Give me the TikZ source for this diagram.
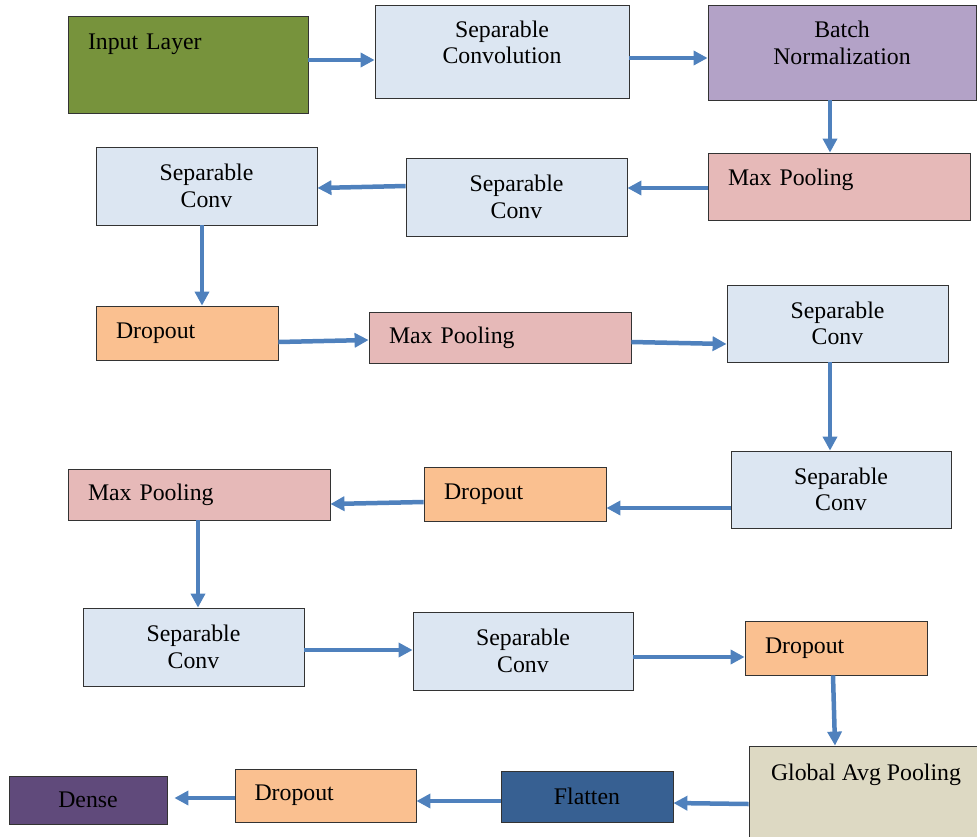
\documentclass[tikz,border=0pt]{standalone}
\usepackage{fontspec}
\setmainfont{Liberation Serif}
\usepackage{xcolor}
\usetikzlibrary{arrows.meta}

\definecolor{inputgreen}{HTML}{77933C}
\definecolor{convblue}{HTML}{DCE6F2}
\definecolor{normpurple}{HTML}{B3A2C7}
\definecolor{poolpink}{HTML}{E6B9B8}
\definecolor{droporange}{HTML}{FAC090}
\definecolor{avgbeige}{HTML}{DDD9C3}
\definecolor{flatblue}{HTML}{376092}
\definecolor{densepurple}{HTML}{604A7B}
\definecolor{arrowblue}{HTML}{4F81BD}

\begin{document}
\begin{tikzpicture}[x=1pt, y=-1pt,
  layer/.style={draw=black!80, line width=0.8pt, inner sep=0pt, align=center,
    font=\fontsize{23.8}{26.5}\selectfont},
  sepconv/.style={layer, fill=convblue, minimum width=221pt, minimum height=78pt},
  maxpool/.style={layer, fill=poolpink, minimum width=262pt, minimum height=51pt,
    text width=222pt, align=left},
  dropout/.style={layer, fill=droporange, minimum width=182pt, minimum height=54pt,
    text width=142pt, align=left},
  flow/.style={draw=arrowblue, line width=4.5pt, -{Triangle[width=14pt, length=14pt]}}]

  \useasboundingbox (0,0) rectangle (977,836);

  % Row 1
  \node[layer, fill=inputgreen, minimum width=240pt, minimum height=97pt,
        text width=200pt, align=left, text depth=45.6pt] (in) at (188,64.5) {Input Layer};
  \node[layer, fill=convblue, minimum width=254pt, minimum height=93pt, text depth=19pt] (sc1) at (502,51.5) {Separable\\Convolution};
  \node[layer, fill=normpurple, minimum width=268pt, minimum height=95pt, text depth=20pt] (bn) at (842,52.5) {Batch\\Normalization};

  % Row 2
  \node[maxpool, minimum height=67pt, text depth=19pt] (mp1) at (839,186.5) {Max Pooling};
  \node[sepconv] (c2) at (516.5,197) {Separable\\Conv};
  \node[sepconv] (c3) at (206.5,186) {Separable\\Conv};

  % Row 3
  \node[dropout] (d1) at (187,333) {Dropout};
  \node[maxpool] (mp2) at (500,337.5) {Max Pooling};
  \node[sepconv, minimum height=77pt] (c4) at (837.5,323.5) {Separable\\Conv};

  % Row 4
  \node[sepconv, minimum width=220pt, minimum height=77pt] (c5) at (841,489.5) {Separable\\Conv};
  \node[dropout] (d2) at (515,494) {Dropout};
  \node[maxpool] (mp3) at (199,494.5) {Max Pooling};

  % Row 5
  \node[sepconv] (c6) at (193.5,647) {Separable\\Conv};
  \node[sepconv, minimum width=220pt] (c7) at (523,651) {Separable\\Conv};
  \node[dropout] (d3) at (836,648) {Dropout};

  % Row 6
  \node[layer, fill=avgbeige, minimum width=234pt, minimum height=100pt, text depth=48pt] (gap) at (866,796) {Global Avg Pooling};
  \node[layer, fill=flatblue, minimum width=172pt, minimum height=51pt] (fl) at (587,796.5) {Flatten};
  \node[dropout, minimum width=181pt, minimum height=53pt] (d4) at (325.5,795.5) {Dropout};
  \node[layer, fill=densepurple, minimum width=158pt, minimum height=48pt] (dense) at (88,800) {Dense};

  % Arrows
  \draw[flow] ([yshift=4.5pt]in.east) -- ([yshift=-8.5pt]sc1.west);
  \draw[flow] ([yshift=-6.5pt]sc1.east) -- ([yshift=-5.5pt]bn.west);
  \draw[flow] ([xshift=-12pt]bn.south) -- ([xshift=-9pt]mp1.north);
  \draw[flow] ([yshift=-1.5pt]mp1.west) -- ([yshift=9pt]c2.east);
  \draw[flow] ([yshift=11pt]c2.west) -- ([yshift=-2pt]c3.east);
  \draw[flow] ([xshift=-4.5pt]c3.south) -- ([xshift=15pt]d1.north);
  \draw[flow] ([yshift=-9pt]d1.east) -- ([yshift=-2.5pt]mp2.west);
  \draw[flow] ([yshift=-4.5pt]mp2.east) -- ([yshift=-20.5pt]c4.west);
  \draw[flow] ([xshift=-7.5pt]c4.south) -- ([xshift=-11pt]c5.north);
  \draw[flow] ([yshift=-18.5pt]c5.west) -- ([yshift=-14pt]d2.east);
  \draw[flow] ([yshift=-8pt]d2.west) -- ([yshift=-9.5pt]mp3.east);
  \draw[flow] ([xshift=-1pt]mp3.south) -- ([xshift=4.5pt]c6.north);
  \draw[flow] ([yshift=-3pt]c6.east) -- ([yshift=1pt]c7.west);
  \draw[flow] ([yshift=-6pt]c7.east) -- ([yshift=-9pt]d3.west);
  \draw[flow] ([xshift=-3pt]d3.south) -- ([xshift=-31pt]gap.north);
  \draw[flow] ([yshift=-8pt]gap.west) -- ([yshift=-6.5pt]fl.east);
  \draw[flow] ([yshift=-4.5pt]fl.west) -- ([yshift=-5.5pt]d4.east);
  \draw[flow] ([yshift=-2.5pt]d4.west) -- ([xshift=7pt, yshift=2pt]dense.east);

\end{tikzpicture}
\end{document}
